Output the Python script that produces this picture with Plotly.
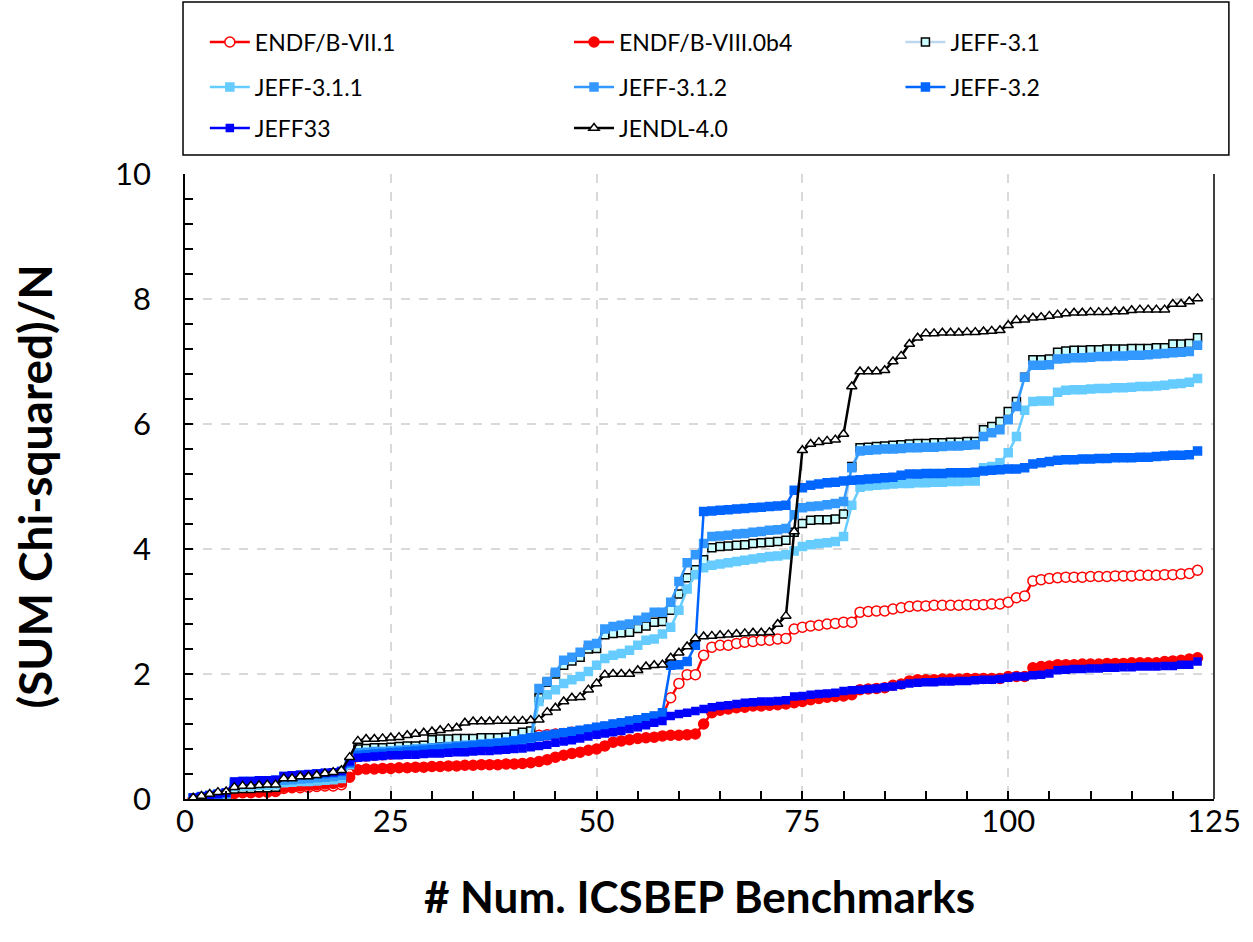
import plotly.graph_objects as go

# Benchmark index (1..123)
bench = list(range(1, 124))

# Cumulative (SUM chi-squared)/N per nuclear data library
endf_b71 = [
    0.00, 0.01, 0.02, 0.03, 0.04, 0.09, 0.10, 0.10, 0.11, 0.11,
    0.12, 0.17, 0.18, 0.18, 0.19, 0.20, 0.21, 0.21, 0.23, 0.40,
    0.68, 0.69, 0.70, 0.71, 0.72, 0.73, 0.74, 0.75, 0.76, 0.77,
    0.78, 0.79, 0.81, 0.82, 0.83, 0.85, 0.86, 0.87, 0.89, 0.91,
    0.94, 0.97, 1.02, 1.03, 1.04, 1.05, 1.07, 1.08, 1.10, 1.13,
    1.15, 1.18, 1.20, 1.23, 1.25, 1.28, 1.31, 1.34, 1.62, 1.85,
    1.99, 1.99, 2.30, 2.43, 2.46, 2.46, 2.49, 2.51, 2.52, 2.54,
    2.54, 2.56, 2.57, 2.72, 2.75, 2.77, 2.78, 2.80, 2.81, 2.83,
    2.83, 2.99, 3.00, 3.01, 3.01, 3.04, 3.06, 3.08, 3.09, 3.09,
    3.10, 3.10, 3.10, 3.10, 3.11, 3.11, 3.11, 3.12, 3.12, 3.15,
    3.22, 3.25, 3.49, 3.51, 3.53, 3.54, 3.55, 3.55, 3.55, 3.56,
    3.56, 3.56, 3.57, 3.57, 3.57, 3.58, 3.58, 3.58, 3.59, 3.59,
    3.60, 3.61, 3.66,
]

endf_b80b4 = [
    0.00, 0.01, 0.02, 0.03, 0.04, 0.10, 0.11, 0.11, 0.12, 0.12,
    0.13, 0.19, 0.20, 0.21, 0.22, 0.23, 0.24, 0.25, 0.27, 0.35,
    0.47, 0.48, 0.48, 0.49, 0.49, 0.50, 0.50, 0.51, 0.51, 0.52,
    0.52, 0.53, 0.53, 0.54, 0.54, 0.55, 0.55, 0.55, 0.56, 0.56,
    0.57, 0.58, 0.60, 0.63, 0.67, 0.70, 0.73, 0.75, 0.78, 0.80,
    0.85, 0.91, 0.93, 0.95, 0.97, 0.98, 0.99, 1.01, 1.02, 1.02,
    1.03, 1.04, 1.20, 1.38, 1.42, 1.44, 1.46, 1.47, 1.49, 1.49,
    1.50, 1.51, 1.52, 1.54, 1.56, 1.59, 1.61, 1.63, 1.64, 1.65,
    1.67, 1.75, 1.76, 1.77, 1.78, 1.82, 1.84, 1.89, 1.91, 1.91,
    1.91, 1.92, 1.92, 1.92, 1.93, 1.93, 1.93, 1.93, 1.93, 1.96,
    1.96, 1.96, 2.10, 2.12, 2.13, 2.15, 2.15, 2.15, 2.16, 2.16,
    2.16, 2.17, 2.17, 2.17, 2.18, 2.18, 2.18, 2.18, 2.20, 2.21,
    2.22, 2.24, 2.26,
]

jeff_31 = [
    0.01, 0.03, 0.05, 0.07, 0.09, 0.16, 0.17, 0.17, 0.18, 0.18,
    0.19, 0.27, 0.28, 0.29, 0.29, 0.30, 0.31, 0.32, 0.34, 0.56,
    0.80, 0.81, 0.82, 0.82, 0.83, 0.84, 0.85, 0.85, 0.86, 0.95,
    0.96, 0.96, 0.97, 0.97, 0.97, 0.98, 0.98, 0.98, 0.99, 1.04,
    1.07, 1.09, 1.62, 1.87, 2.00, 2.14, 2.21, 2.27, 2.40, 2.41,
    2.63, 2.65, 2.66, 2.67, 2.73, 2.77, 2.83, 2.84, 3.02, 3.28,
    3.54, 3.67, 3.83, 4.02, 4.04, 4.05, 4.06, 4.07, 4.09, 4.10,
    4.11, 4.12, 4.14, 4.27, 4.41, 4.46, 4.47, 4.47, 4.48, 4.56,
    5.32, 5.62, 5.63, 5.64, 5.65, 5.66, 5.67, 5.68, 5.69, 5.69,
    5.70, 5.70, 5.71, 5.71, 5.72, 5.72, 5.91, 5.96, 6.04, 6.20,
    6.36, 6.75, 7.03, 7.03, 7.04, 7.15, 7.17, 7.18, 7.18, 7.19,
    7.19, 7.20, 7.20, 7.20, 7.21, 7.21, 7.21, 7.22, 7.22, 7.28,
    7.28, 7.29, 7.38,
]

jeff_311 = [
    0.01, 0.03, 0.04, 0.06, 0.08, 0.20, 0.21, 0.21, 0.22, 0.22,
    0.23, 0.26, 0.27, 0.28, 0.28, 0.29, 0.30, 0.31, 0.33, 0.55,
    0.71, 0.72, 0.72, 0.73, 0.74, 0.75, 0.76, 0.77, 0.78, 0.79,
    0.80, 0.81, 0.82, 0.83, 0.84, 0.85, 0.86, 0.87, 0.88, 0.89,
    0.90, 0.92, 1.56, 1.67, 1.75, 1.85, 1.91, 1.96, 2.04, 2.14,
    2.25, 2.30, 2.33, 2.38, 2.46, 2.54, 2.56, 2.64, 2.75, 3.02,
    3.36, 3.59, 3.70, 3.74, 3.76, 3.78, 3.80, 3.82, 3.84, 3.86,
    3.88, 3.89, 3.91, 3.97, 4.04, 4.07, 4.09, 4.10, 4.12, 4.20,
    4.70, 4.99, 5.01, 5.02, 5.03, 5.04, 5.05, 5.05, 5.06, 5.06,
    5.07, 5.07, 5.08, 5.08, 5.09, 5.09, 5.30, 5.32, 5.38, 5.54,
    5.80, 6.22, 6.36, 6.37, 6.37, 6.51, 6.54, 6.55, 6.55, 6.56,
    6.57, 6.57, 6.58, 6.58, 6.59, 6.60, 6.60, 6.61, 6.62, 6.64,
    6.65, 6.67, 6.73,
]

jeff_312 = [
    0.01, 0.03, 0.05, 0.07, 0.09, 0.24, 0.25, 0.25, 0.26, 0.26,
    0.27, 0.30, 0.31, 0.32, 0.33, 0.34, 0.35, 0.36, 0.38, 0.58,
    0.74, 0.75, 0.76, 0.76, 0.77, 0.78, 0.79, 0.80, 0.81, 0.82,
    0.83, 0.84, 0.85, 0.86, 0.87, 0.88, 0.89, 0.90, 0.91, 0.93,
    0.94, 0.96, 1.77, 1.88, 2.03, 2.22, 2.27, 2.35, 2.46, 2.49,
    2.72, 2.76, 2.78, 2.80, 2.86, 2.91, 2.99, 2.99, 3.15, 3.48,
    3.78, 3.91, 4.09, 4.20, 4.21, 4.22, 4.24, 4.25, 4.27, 4.28,
    4.30, 4.31, 4.33, 4.55, 4.66, 4.68, 4.69, 4.71, 4.73, 4.76,
    5.30, 5.57, 5.58, 5.59, 5.60, 5.60, 5.61, 5.62, 5.62, 5.63,
    5.63, 5.64, 5.65, 5.65, 5.66, 5.67, 5.80, 5.86, 5.91, 6.07,
    6.28, 6.75, 6.94, 6.94, 6.95, 7.04, 7.05, 7.06, 7.06, 7.07,
    7.08, 7.08, 7.09, 7.09, 7.10, 7.10, 7.11, 7.12, 7.13, 7.14,
    7.15, 7.16, 7.26,
]

jeff_32 = [
    0.02, 0.04, 0.06, 0.08, 0.10, 0.27, 0.28, 0.28, 0.29, 0.29,
    0.30, 0.36, 0.37, 0.38, 0.39, 0.40, 0.41, 0.42, 0.44, 0.58,
    0.70, 0.71, 0.72, 0.73, 0.74, 0.75, 0.76, 0.77, 0.78, 0.79,
    0.80, 0.81, 0.83, 0.84, 0.85, 0.87, 0.88, 0.89, 0.91, 0.93,
    0.96, 0.98, 1.00, 1.02, 1.04, 1.06, 1.08, 1.10, 1.12, 1.15,
    1.17, 1.20, 1.22, 1.25, 1.27, 1.30, 1.33, 1.38, 2.14, 2.15,
    2.20, 2.46, 4.60, 4.61, 4.62, 4.63, 4.64, 4.65, 4.66, 4.67,
    4.68, 4.69, 4.70, 4.94, 4.98, 5.02, 5.04, 5.06, 5.07, 5.09,
    5.10, 5.11, 5.12, 5.13, 5.14, 5.15, 5.18, 5.20, 5.20, 5.21,
    5.21, 5.21, 5.22, 5.22, 5.22, 5.23, 5.25, 5.26, 5.27, 5.28,
    5.28, 5.30, 5.36, 5.38, 5.40, 5.42, 5.43, 5.43, 5.44, 5.44,
    5.45, 5.45, 5.46, 5.46, 5.46, 5.47, 5.47, 5.48, 5.49, 5.50,
    5.50, 5.51, 5.57,
]

jeff_33 = [
    0.02, 0.04, 0.06, 0.08, 0.10, 0.28, 0.29, 0.29, 0.30, 0.30,
    0.31, 0.37, 0.38, 0.39, 0.40, 0.41, 0.42, 0.43, 0.45, 0.60,
    0.66, 0.67, 0.68, 0.69, 0.70, 0.70, 0.71, 0.71, 0.72, 0.73,
    0.73, 0.74, 0.75, 0.75, 0.76, 0.77, 0.77, 0.78, 0.79, 0.80,
    0.81, 0.83, 0.85, 0.87, 0.90, 0.92, 0.94, 0.97, 1.00, 1.03,
    1.05, 1.07, 1.09, 1.12, 1.15, 1.18, 1.22, 1.25, 1.33, 1.36,
    1.38, 1.41, 1.44, 1.47, 1.49, 1.50, 1.52, 1.54, 1.55, 1.56,
    1.56, 1.57, 1.58, 1.64, 1.65, 1.67, 1.68, 1.69, 1.70, 1.73,
    1.74, 1.75, 1.76, 1.77, 1.79, 1.80, 1.83, 1.85, 1.86, 1.87,
    1.87, 1.88, 1.88, 1.89, 1.89, 1.90, 1.91, 1.91, 1.92, 1.94,
    1.96, 1.96, 1.98, 1.99, 2.01, 2.06, 2.07, 2.08, 2.08, 2.09,
    2.09, 2.10, 2.10, 2.11, 2.11, 2.12, 2.12, 2.12, 2.13, 2.13,
    2.15, 2.15, 2.20,
]

jendl_40 = [
    0.02, 0.05, 0.08, 0.11, 0.12, 0.19, 0.21, 0.21, 0.22, 0.23,
    0.23, 0.33, 0.33, 0.36, 0.36, 0.38, 0.41, 0.43, 0.46, 0.67,
    0.93, 0.96, 0.96, 0.97, 0.98, 0.99, 1.02, 1.04, 1.06, 1.08,
    1.10, 1.13, 1.14, 1.22, 1.24, 1.24, 1.24, 1.25, 1.25, 1.25,
    1.25, 1.26, 1.27, 1.39, 1.46, 1.56, 1.62, 1.63, 1.75, 1.85,
    1.99, 2.00, 2.00, 2.00, 2.06, 2.12, 2.14, 2.15, 2.26, 2.34,
    2.44, 2.57, 2.60, 2.61, 2.62, 2.63, 2.64, 2.65, 2.66, 2.66,
    2.67, 2.80, 2.93, 4.28, 5.58, 5.68, 5.71, 5.73, 5.75, 5.84,
    6.60, 6.84, 6.84, 6.84, 6.86, 7.00, 7.09, 7.28, 7.38, 7.45,
    7.45, 7.46, 7.46, 7.46, 7.47, 7.47, 7.48, 7.49, 7.50, 7.58,
    7.66, 7.67, 7.70, 7.71, 7.73, 7.75, 7.77, 7.78, 7.78, 7.79,
    7.79, 7.79, 7.80, 7.80, 7.82, 7.83, 7.83, 7.83, 7.83, 7.92,
    7.92, 7.96, 8.01,
]

x_ticks = [0, 25, 50, 75, 100, 125]
y_ticks = [0, 2, 4, 6, 8, 10]

FONT = "Lato, 'Open Sans', sans-serif"

# plot area in pixels: x 185..1222, y 174..799 (figure 1253 x 942)
L, R, T, B = 185, 1222, 174, 799
W, H = R - L, B - T


def px(xp):
    return (xp - L) / W


def py(yp):
    return (B - yp) / H


# legend grid: three columns, three rows (pixel anchors of each entry)
col_x = [205, 572, 906]
row_y = [42, 87, 128]

# name, values, line colour, marker symbol, marker fill, marker edge, size, (row, col)
series = [
    ("ENDF/B-VII.1", endf_b71, "#ff0000", "circle", "#ffffff", "#ff0000", 10, (0, 0)),
    ("ENDF/B-VIII.0b4", endf_b80b4, "#ff0000", "circle", "#ff0000", "#ff0000", 10, (0, 1)),
    ("JEFF-3.1", jeff_31, "#bdd7ee", "square", "#ccffff", "#000000", 8, (0, 2)),
    ("JEFF-3.1.1", jeff_311, "#66ccff", "square", "#66ccff", "#66ccff", 8, (1, 0)),
    ("JEFF-3.1.2", jeff_312, "#3399ff", "square", "#3399ff", "#3399ff", 8, (1, 1)),
    ("JEFF-3.2", jeff_32, "#0066ff", "square", "#0066ff", "#0066ff", 8, (1, 2)),
    ("JEFF33", jeff_33, "#0000ff", "square", "#0000ff", "#0000ff", 7, (2, 0)),
    ("JENDL-4.0", jendl_40, "#000000", "triangle-up", "#ffffff", "#000000", 9, (2, 1)),
]

fig = go.Figure()
legends = {}
for i, (name, vals, lc, sym, fill, edge, size, (r, c)) in enumerate(series):
    key = "legend" if i == 0 else f"legend{i + 1}"
    fig.add_trace(go.Scatter(
        x=bench, y=vals, name=name, mode="lines+markers",
        line=dict(color=lc, width=2.5),
        marker=dict(symbol=sym, size=size, color=fill,
                    line=dict(color=edge, width=1.5)),
        legend=key,
    ))
    legends[key] = dict(
        x=px(col_x[c]), y=py(row_y[r]), xanchor="left", yanchor="middle",
        orientation="h", itemwidth=40,
        font=dict(family=FONT, size=23, color="#000000"),
        bgcolor="rgba(0,0,0,0)", borderwidth=0,
    )

axis_common = dict(
    ticks="inside", ticklen=8, tickwidth=1.5, tickcolor="#000000",
    showline=True, linecolor="#000000", linewidth=1.5,
    showgrid=True, gridcolor="#d9d9d9", griddash="dash", gridwidth=1.5,
    zeroline=False,
    tickfont=dict(family=FONT, size=31, color="#000000"),
)

fig.update_layout(
    width=1253, height=942,
    margin=dict(l=L, r=1253 - R, t=T, b=942 - B),
    paper_bgcolor="#ffffff", plot_bgcolor="#ffffff",
    font=dict(family=FONT, color="#000000"),
    showlegend=True,
    xaxis=dict(
        range=[0, 125], tickvals=x_ticks, ticktext=[str(v) for v in x_ticks],
        minor=dict(dtick=5, tick0=0, ticks="inside", ticklen=8,
                   tickwidth=1.5, tickcolor="#000000", showgrid=False),
        ticklabelstandoff=-6,
        title=dict(text="<b># Num. ICSBEP Benchmarks</b>",
                   font=dict(family=FONT, size=44, color="#000000"),
                   standoff=44),
        **axis_common,
    ),
    yaxis=dict(
        range=[0, 10], tickvals=y_ticks, ticktext=[str(v) for v in y_ticks],
        minor=dict(dtick=0.4, tick0=0, ticks="inside", ticklen=8,
                   tickwidth=1.5, tickcolor="#000000", showgrid=False),
        ticklabelstandoff=26,
        title=dict(text="<b>(SUM Chi-squared)/N</b>",
                   font=dict(family=FONT, size=46, color="#000000"),
                   standoff=48),
        **axis_common,
    ),
    shapes=[
        # legend frame
        dict(type="rect", xref="paper", yref="paper",
             x0=px(183), x1=px(1237), y0=py(155), y1=py(2),
             line=dict(color="#000000", width=1.5), fillcolor="rgba(0,0,0,0)"),
        # right edge of plot area
        dict(type="line", xref="paper", yref="paper",
             x0=1, x1=1, y0=0, y1=1,
             line=dict(color="#000000", width=1.5)),
    ],
    **legends,
)

fig.write_html("out.html")
